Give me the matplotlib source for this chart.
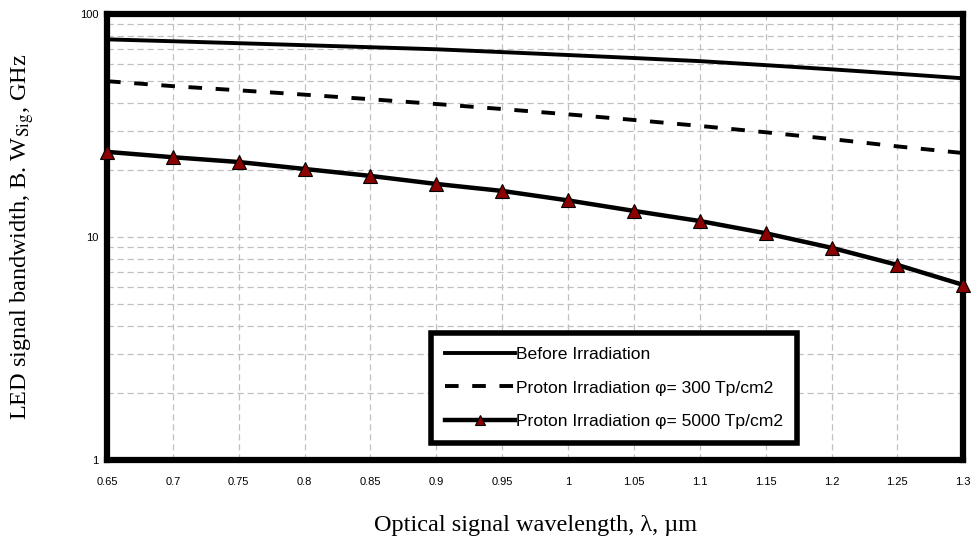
import numpy as np
import matplotlib.pyplot as plt
from matplotlib.ticker import FixedLocator, NullFormatter, LogLocator

plt.rcParams['mathtext.fontset'] = 'stix'

# longitud de onda (um)
wavelength = [0.65, 0.7, 0.75, 0.8, 0.85, 0.9, 0.95, 1.0, 1.05, 1.1, 1.15, 1.2, 1.25, 1.3]
# ancho de banda (GHz)
bw_before = [77, 75.5, 74, 72.5, 71, 69.5, 67.5, 65.5, 63.5, 61.5, 59, 56.5, 54, 51.5]
bw_300 = [50, 47.5, 45.5, 43.5, 41.5, 39.5, 37.5, 35.5, 33.5, 31.5, 29.5, 27.5, 25.5, 23.8]
bw_5000 = [24.1, 22.8, 21.7, 20.2, 18.8, 17.3, 16.1, 14.6, 13.1, 11.8, 10.4, 8.95, 7.5, 6.1]

labels = ['Before Irradiation',
          'Proton Irradiation \u03c6= 300 Tp/cm2',
          'Proton Irradiation \u03c6= 5000 Tp/cm2']
xticks = [0.65, 0.7, 0.75, 0.8, 0.85, 0.9, 0.95, 1, 1.05, 1.1, 1.15, 1.2, 1.25, 1.3]
xtick_labels = ['0.65', '0.7', '0.75', '0.8', '0.85', '0.9', '0.95', '1',
                '1.05', '1.1', '1.15', '1.2', '1.25', '1.3']

fig = plt.figure(figsize=(9.73, 5.4), dpi=100)
ax = fig.add_axes([0.110, 0.148, 0.880, 0.826])

ax.plot(wavelength, bw_before, color='black', lw=2.8, label=labels[0], zorder=3)
ax.plot(wavelength, bw_300, color='black', lw=2.8, dashes=(3.5, 3.5), label=labels[1], zorder=3)
ax.plot(wavelength, bw_5000, color='black', lw=3.2, marker='^', markersize=10,
        markerfacecolor='#8b0000', markeredgecolor='black', markeredgewidth=0.8,
        label=labels[2], zorder=4, clip_on=False)

ax.set_yscale('log')
ax.set_ylim(1, 100)
ax.set_xlim(0.65, 1.3)
ax.yaxis.set_major_locator(FixedLocator([1, 10, 100]))
ax.yaxis.set_minor_locator(LogLocator(base=10, subs=np.arange(2, 10)))
ax.yaxis.set_minor_formatter(NullFormatter())
ax.set_yticklabels(['1', '10', '100'], fontsize=8, family='Liberation Sans')
ax.set_xticks(xticks)
ax.set_xticklabels(xtick_labels, fontsize=8, family='Liberation Sans')
ax.tick_params(axis='both', which='both', length=0, pad=12)
ax.tick_params(axis='y', pad=6)

ax.grid(True, which='both', color='#c0c0c0', linestyle=(0, (5, 3)), lw=0.9)
for s in ax.spines.values():
    s.set_linewidth(4.5)
    s.set_color('black')

ax.set_xlabel('Optical signal wavelength, \u03bb, \u00b5m', family='Liberation Serif',
              fontsize=17.5, labelpad=20)
ax.set_ylabel('LED signal bandwidth, B. W$_{\\mathrm{Sig}}$, GHz', family='Liberation Serif',
              fontsize=17.5)
ax.yaxis.set_label_coords(-0.083, 0.5)

leg = ax.legend(loc='lower right', bbox_to_anchor=(0.806, 0.038),
                prop={'family': 'Liberation Sans', 'size': 12.6}, frameon=True, fancybox=False,
                handlelength=4.0, handletextpad=0.05, borderpad=0.8, labelspacing=1.05,
                borderaxespad=0, markerscale=0.7,
                edgecolor='black', framealpha=1)
leg.get_frame().set_linewidth(4)

fig.savefig('out.png', dpi=100)
